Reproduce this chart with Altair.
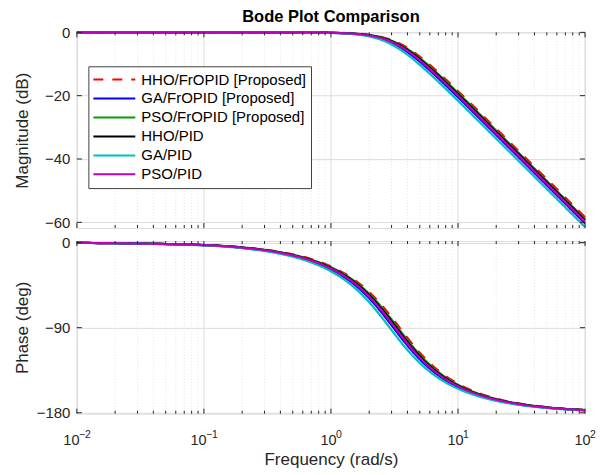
import altair as alt
import pandas as pd

# ---------------- data ----------------
FREQ = [0.01, 0.1, 0.2, 0.4, 0.7, 1, 1.5, 2, 2.5, 3, 3.5, 4, 5, 6, 8, 10, 15, 20, 30, 50, 100]

SERIES = ["HHO/FrOPID [Proposed]", "GA/FrOPID [Proposed]", "PSO/FrOPID [Proposed]",
          "HHO/PID", "GA/PID", "PSO/PID"]
COLORS = ["#FF0000", "#0000FF", "#00A000", "#000000", "#00BFBF", "#BF00BF"]
DASHES = [[10, 9], [1, 0], [1, 0], [1, 0], [1, 0], [1, 0]]

MAG_HHO_FROPID = [0.0, 0.0, 0.0, -0.02, -0.05, -0.12, -0.34, -0.77, -1.46, -2.42, -3.60, -4.91,
                  -7.66, -10.29, -14.86, -18.58, -25.50, -30.46, -37.49, -46.35, -58.39]
MAG_GA_FROPID = [0.0, 0.0, 0.0, -0.02, -0.07, -0.16, -0.47, -1.06, -2.00, -3.25, -4.69, -6.22,
                 -9.25, -12.03, -16.72, -20.49, -27.44, -32.42, -39.44, -48.31, -60.35]
MAG_PSO_FROPID = [0.0, 0.0, 0.0, -0.02, -0.05, -0.13, -0.37, -0.84, -1.60, -2.64, -3.89, -5.27,
                  -8.11, -10.78, -15.39, -19.12, -26.05, -31.02, -38.04, -46.91, -58.95]
MAG_HHO_PID = [0.0, 0.0, 0.0, -0.02, -0.06, -0.14, -0.40, -0.91, -1.71, -2.81, -4.12, -5.54,
               -8.44, -11.15, -15.79, -19.53, -26.47, -31.44, -38.46, -47.33, -59.37]
MAG_GA_PID = [0.0, 0.0, -0.01, -0.02, -0.08, -0.19, -0.56, -1.29, -2.40, -3.83, -5.42, -7.07,
              -10.25, -13.10, -17.84, -21.62, -28.59, -33.57, -40.60, -49.47, -61.51]
MAG_PSO_PID = [0.0, 0.0, 0.0, -0.02, -0.06, -0.15, -0.43, -0.97, -1.83, -2.99, -4.36, -5.83,
               -8.79, -11.54, -16.19, -19.95, -26.90, -31.87, -38.89, -47.76, -59.80]

PH_HHO_FROPID = [-0.25, -2.48, -4.95, -9.94, -17.51, -25.24, -38.57, -52.32, -66.01, -78.98, -90.66,
                 -100.76, -116.47, -127.50, -141.29, -149.38, -159.86, -164.98, -170.03, -174.03, -177.02]
PH_GA_FROPID = [-0.28, -2.77, -5.55, -11.13, -19.64, -28.37, -43.46, -58.90, -73.88, -87.50, -99.21,
                -108.96, -123.50, -133.41, -145.63, -152.78, -162.06, -166.60, -171.10, -174.67, -177.34]
PH_PSO_FROPID = [-0.25, -2.56, -5.12, -10.26, -18.10, -26.11, -39.92, -54.14, -68.21, -81.39, -93.11,
                 -103.14, -118.53, -129.24, -142.57, -150.39, -160.52, -165.46, -170.34, -174.22, -177.11]
PH_HHO_PID = [-0.26, -2.62, -5.25, -10.52, -18.55, -26.76, -40.95, -55.53, -69.88, -83.21, -94.95,
              -104.90, -120.05, -130.51, -143.51, -151.12, -160.99, -165.81, -170.57, -174.36, -177.18]
PH_GA_PID = [-0.30, -2.96, -5.93, -11.91, -21.03, -30.41, -46.64, -63.12, -78.77, -92.59, -104.16,
             -113.57, -127.33, -136.59, -147.95, -154.59, -163.23, -167.47, -171.67, -175.01, -177.51]
PH_PSO_PID = [-0.27, -2.68, -5.38, -10.78, -19.01, -27.45, -42.02, -56.98, -71.61, -85.08, -96.82,
              -106.70, -121.59, -131.81, -144.46, -151.86, -161.47, -166.16, -170.81, -174.49, -177.25]

MAGS = [MAG_HHO_FROPID, MAG_GA_FROPID, MAG_PSO_FROPID, MAG_HHO_PID, MAG_GA_PID, MAG_PSO_PID]
PHASES = [PH_HHO_FROPID, PH_GA_FROPID, PH_PSO_FROPID, PH_HHO_PID, PH_GA_PID, PH_PSO_PID]

X_MAJOR = [0.01, 0.1, 1, 10, 100]
X_BASES = ["10", "10", "10", "10", "10"]
X_EXPONENTS = ["\u22122", "\u22121", "0", "1", "2"]
X_MINOR = [m * d for d in [0.01, 0.1, 1, 10] for m in range(2, 10)]
MAG_TICKS = [0, -20, -40, -60]
PH_TICKS = [0, -90, -180]

rows = []
for i, s in enumerate(SERIES):
    for f, m, p in zip(FREQ, MAGS[i], PHASES[i]):
        rows.append({"freq": f, "mag": m, "phase": p, "series": s, "k": i})
df = pd.DataFrame(rows)

# ---------------- styling ----------------
FONT = "Liberation Sans"
AX = "#262626"
W = 509
H1 = 196
H2 = 173

x_scale = alt.Scale(type="log", domain=[0.01, 100], nice=False)
y1_scale = alt.Scale(domain=[-61.8, 0], nice=False, zero=False)
y2_scale = alt.Scale(domain=[-181, 1.7], nice=False, zero=False)

label_expr = " : ".join(
    f"datum.value == {v} ? '{l}'" for v, l in zip(X_MAJOR, X_BASES)) + " : ''"

legend = alt.Legend(
    title=None, orient="none", legendX=11.5, legendY=34,
    symbolType="stroke", symbolSize=1764, symbolStrokeWidth=2,
    labelFont=FONT, labelFontSize=15, labelColor="#000000", labelOffset=5, labelLimit=400,
    clipHeight=18.5, rowPadding=0, padding=4,
    fillColor="white", strokeColor="#404040", cornerRadius=0,
)


def yaxis(title, vals, h):
    return alt.Axis(
        values=vals, ticks=False, domain=False, grid=True, gridColor="#DCDCDC",
        labelFont=FONT, labelFontSize=15, labelColor=AX, labelPadding=7,
        title=title, titleFont=FONT, titleFontSize=17, titleFontWeight="normal",
        titleColor=AX, titleAngle=-90, titleX=-54, titleY=h / 2,
        titleBaseline="middle", titleAlign="center",
    )


X_AXIS_BOTTOM = alt.Axis(
    values=X_MAJOR, labelExpr=label_expr, ticks=False, domain=False, grid=False,
    labelFont=FONT, labelFontSize=14.5, labelColor=AX, labelPadding=20, labelFlush=False,
    labelOffset={"condition": {"test": "datum.value < 0.5", "value": -6}, "value": -3},
    title="Frequency  (rad/s)", titleFont=FONT, titleFontSize=17,
    titleFontWeight="normal", titleColor=AX, titlePadding=4)


def make_panel(field, yscale, yvals, ytitle, h, xaxis, dash_legend, color_legend, exponents):
    yax = yaxis(ytitle, yvals, h)

    def xe(name):
        return alt.X(name, scale=x_scale, axis=xaxis, title="Frequency  (rad/s)")

    def ye(name):
        return alt.Y(name, scale=yscale, axis=yax, title=ytitle)

    layers = []
    # grid
    layers.append(alt.Chart(pd.DataFrame({"v": X_MINOR})).mark_rule(
        color="#E4E4E4", strokeDash=[1, 2], strokeWidth=1).encode(x=xe("v:Q")))
    layers.append(alt.Chart(pd.DataFrame({"v": X_MAJOR})).mark_rule(
        color="#DCDCDC", strokeWidth=1).encode(x=xe("v:Q")))
    # curves
    layers.append(alt.Chart(df).mark_line(strokeWidth=2.2, interpolate="monotone").encode(
        x=xe("freq:Q"),
        y=ye(f"{field}:Q"),
        color=alt.Color("series:N", scale=alt.Scale(domain=SERIES, range=COLORS), legend=color_legend),
        strokeDash=alt.StrokeDash("series:N", scale=alt.Scale(domain=SERIES, range=DASHES),
                                  legend=dash_legend),
        order=alt.Order("k:Q"),
    ))
    # inward ticks
    for vals, L in [(X_MAJOR, 5), (X_MINOR, 3)]:
        base = alt.Chart(pd.DataFrame({"v": vals})).mark_rule(color=AX, strokeWidth=1)
        layers.append(base.encode(x=xe("v:Q"), y=alt.value(0), y2=alt.value(L)))
        layers.append(base.encode(x=xe("v:Q"), y=alt.value(h), y2=alt.value(h - L)))
    base = alt.Chart(pd.DataFrame({"v": yvals})).mark_rule(color=AX, strokeWidth=1)
    layers.append(base.encode(y=ye("v:Q"), x=alt.value(0), x2=alt.value(5)))
    layers.append(base.encode(y=ye("v:Q"), x=alt.value(W), x2=alt.value(W - 5)))
    if exponents:
        layers.append(alt.Chart(pd.DataFrame({"v": X_MAJOR, "e": X_EXPONENTS})).mark_text(
            align="center", baseline="middle", font=FONT, fontSize=10.5, color=AX, dx=8,
        ).encode(x=xe("v:Q"), y=alt.value(h + 21), text="e:N"))
    return alt.layer(*layers).properties(width=W, height=h)


top = make_panel("mag", y1_scale, MAG_TICKS, "Magnitude (dB)", H1, None, legend, legend, False).properties(
    title=alt.TitleParams("Bode Plot Comparison", font=FONT, fontSize=16.5, fontWeight="bold",
                          color="#000000", anchor="middle", offset=0),
)
bottom = make_panel("phase", y2_scale, PH_TICKS, "Phase (deg)", H2, X_AXIS_BOTTOM, None, None, True)

chart = alt.vconcat(top, bottom, spacing=13, bounds="flush").properties(
    padding={"left": 5, "top": 0, "right": 5, "bottom": 0},
).configure_view(stroke=AX, strokeWidth=1).configure(background="white")

chart.save("out.html", embed_options={"renderer": "svg", "actions": False})
